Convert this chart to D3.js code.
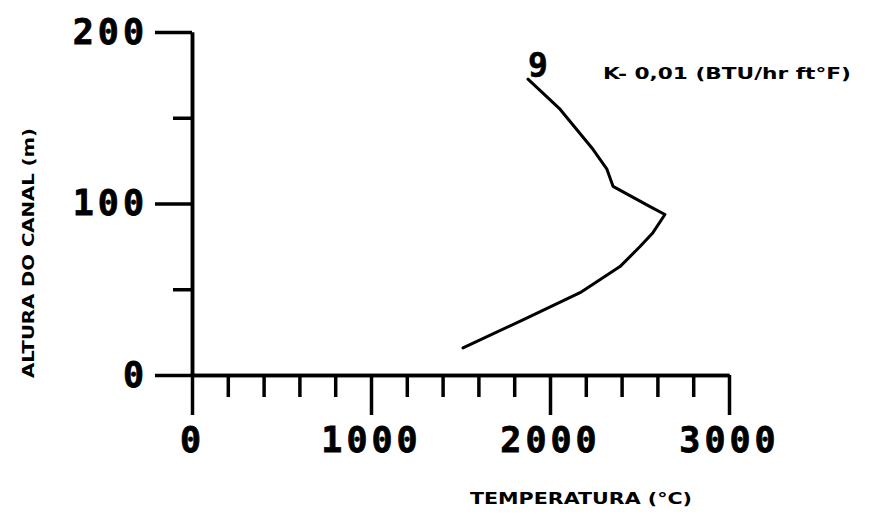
<!DOCTYPE html>
<html>
<head>
<meta charset="utf-8">
<script src="https://cdn.jsdelivr.net/npm/d3@7/dist/d3.min.js"></script>
<style>
  html, body { margin: 0; padding: 0; background: #fff; }
  svg { display: block; }
  .tick text { font-family: "DejaVu Sans Mono", monospace; font-weight: bold; }
</style>
</head>
<body>
<svg id="chart" width="871" height="526"></svg>
<script>
// Temperature profile along the channel height (curve 9)
const temperatura = [1514, 1849, 2168, 2391, 2503, 2575, 2642, 2559, 2352, 2318, 2240, 2056, 1877];
const altura      = [15.8, 32.2, 48.0, 63.2, 74.9, 83.0, 93.6, 98.2, 110, 120, 131.6, 155, 172.5];

const xMajorTicks = [0, 1000, 2000, 3000];
const xMinorTicks = [200, 400, 600, 800, 1200, 1400, 1600, 1800, 2200, 2400, 2600, 2800];
const yMajorTicks = [0, 100, 200];
const yMinorTicks = [50, 150];

const curveLabel = "9";
const kLabel = "K- 0,01 (BTU/hr ft\u00B0F)";
const xTitle = "TEMPERATURA (\u00B0C)";
const yTitle = "ALTURA DO CANAL (m)";

const svg = d3.select("#chart");

const x = d3.scaleLinear().domain([0, 3000]).range([192, 729]);
const y = d3.scaleLinear().domain([0, 200]).range([375, 32]);

const ink = "#000";

// X axis: minor ticks, then major ticks with labels
svg.append("g")
  .attr("transform", `translate(0,${y(0)})`)
  .call(d3.axisBottom(x).tickValues(xMinorTicks).tickSize(22).tickSizeOuter(0).tickFormat(""));
svg.append("g")
  .attr("transform", `translate(0,${y(0)})`)
  .call(d3.axisBottom(x).tickValues(xMajorTicks).tickSize(40).tickSizeOuter(0).tickPadding(12)
    .tickFormat(d3.format("d")));

// Y axis: minor ticks, then major ticks with labels
svg.append("g")
  .attr("transform", `translate(${x(0)},0)`)
  .call(d3.axisLeft(y).tickValues(yMinorTicks).tickSize(19).tickSizeOuter(0).tickFormat(""));
svg.append("g")
  .attr("transform", `translate(${x(0)},0)`)
  .call(d3.axisLeft(y).tickValues(yMajorTicks).tickSize(37).tickSizeOuter(0).tickPadding(7)
    .tickFormat(d3.format("d")));

svg.selectAll(".domain").attr("stroke", ink).attr("stroke-width", 3.5);
svg.selectAll(".tick line").attr("stroke", ink).attr("stroke-width", 3.5);
svg.selectAll(".tick text")
  .attr("fill", ink)
  .attr("stroke", ink)
  .attr("stroke-width", 0.8)
  .style("font-size", "35px")
  .style("letter-spacing", "4px");

// Curve
const line = d3.line()
  .x((d, i) => x(temperatura[i]))
  .y((d, i) => y(altura[i]));

svg.append("path")
  .datum(temperatura)
  .attr("d", line)
  .attr("fill", "none")
  .attr("stroke", ink)
  .attr("stroke-width", 3)
  .attr("stroke-linejoin", "round")
  .attr("stroke-linecap", "round");

// Curve number at its upper end
svg.append("text")
  .attr("x", x(temperatura[temperatura.length - 1]) + 10)
  .attr("y", y(altura[altura.length - 1]) - 2)
  .attr("text-anchor", "middle")
  .attr("stroke", ink)
  .attr("stroke-width", 0.6)
  .style("font-family", "DejaVu Sans Mono, monospace")
  .style("font-weight", "bold")
  .style("font-size", "33px")
  .attr("fill", ink)
  .text(curveLabel);

// Conductivity note
svg.append("text")
  .attr("x", 603)
  .attr("y", 79)
  .attr("textLength", 248)
  .attr("lengthAdjust", "spacingAndGlyphs")
  .style("font-family", "DejaVu Sans, sans-serif")
  .style("font-weight", "bold")
  .style("font-size", "16px")
  .attr("fill", ink)
  .text(kLabel);

// Axis titles
svg.append("text")
  .attr("x", 470)
  .attr("y", 504)
  .attr("textLength", 222)
  .attr("lengthAdjust", "spacingAndGlyphs")
  .style("font-family", "DejaVu Sans, sans-serif")
  .style("font-weight", "bold")
  .style("font-size", "16px")
  .attr("fill", ink)
  .text(xTitle);

svg.append("text")
  .attr("transform", "translate(34,378) rotate(-90)")
  .attr("textLength", 250)
  .attr("lengthAdjust", "spacingAndGlyphs")
  .style("font-family", "DejaVu Sans, sans-serif")
  .style("font-weight", "bold")
  .style("font-size", "16px")
  .attr("fill", ink)
  .text(yTitle);
</script>
</body>
</html>
